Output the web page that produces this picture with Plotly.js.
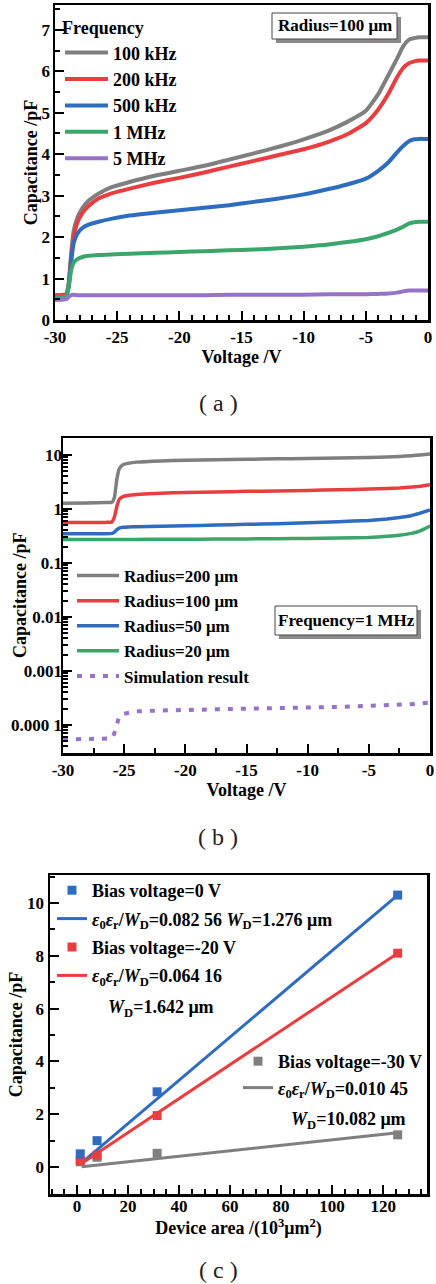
<!DOCTYPE html>
<html><head><meta charset="utf-8">
<script src="https://cdn.plot.ly/plotly-3.0.1.min.js"></script>
<style>html,body{margin:0;padding:0;background:#fff}</style>
</head><body><div id="chart" style="width:436px;height:1284px"></div>
<script>
// ---------- Panel (a): C-V at different frequencies (Radius=100 μm) ----------
const voltageA = [-30, -29.5, -29.1, -28.9, -28.7, -28.5, -28.2, -27.8, -27.3, -26.5, -25.5, -24, -22, -20, -18, -16, -14, -12, -10, -8, -6.5, -5, -4, -3.2, -2.5, -2, -1.5, -1.1, -0.7, -0.3, 0];
const freqNames = ['100 kHz', '200 kHz', '500 kHz', '1 MHz', '5 MHz'];
const cap100k = [0.6, 0.6, 0.62, 0.9, 1.6, 2.15, 2.47, 2.7, 2.88, 3.05, 3.2, 3.33, 3.48, 3.6, 3.72, 3.87, 4.02, 4.18, 4.36, 4.57, 4.78, 5.05, 5.45, 5.9, 6.3, 6.6, 6.77, 6.8, 6.82, 6.82, 6.82];
const cap200k = [0.6, 0.6, 0.62, 0.85, 1.5, 2.0, 2.35, 2.58, 2.75, 2.93, 3.05, 3.17, 3.31, 3.43, 3.56, 3.7, 3.84, 3.98, 4.12, 4.3, 4.48, 4.75, 5.08, 5.45, 5.85, 6.08, 6.2, 6.24, 6.26, 6.26, 6.26];
const cap500k = [0.55, 0.55, 0.57, 0.8, 1.4, 1.85, 2.08, 2.22, 2.3, 2.37, 2.44, 2.52, 2.59, 2.65, 2.71, 2.77, 2.85, 2.93, 3.03, 3.16, 3.27, 3.41, 3.6, 3.8, 4.04, 4.2, 4.32, 4.36, 4.37, 4.37, 4.37];
const cap1M = [0.55, 0.55, 0.57, 0.8, 1.2, 1.38, 1.47, 1.52, 1.55, 1.57, 1.58, 1.6, 1.62, 1.64, 1.66, 1.68, 1.7, 1.73, 1.77, 1.82, 1.88, 1.95, 2.02, 2.1, 2.18, 2.25, 2.33, 2.36, 2.37, 2.37, 2.37];
const cap5M = [0.48, 0.49, 0.5, 0.56, 0.6, 0.61, 0.6, 0.6, 0.6, 0.6, 0.6, 0.6, 0.6, 0.6, 0.6, 0.61, 0.61, 0.61, 0.61, 0.62, 0.62, 0.62, 0.63, 0.64, 0.66, 0.69, 0.71, 0.71, 0.71, 0.71, 0.71];
const voltTickVals = [-30, -25, -20, -15, -10, -5, 0];
const voltTickText = ['-30', '-25', '-20', '-15', '-10', '-5', '0'];

// ---------- Panel (b): C-V at 1 MHz for different radii (log scale) ----------
const voltageB = [-30, -28, -26.5, -26, -25.8, -25.6, -25.4, -25.1, -24.6, -24, -22, -20, -17.5, -15, -12.5, -10, -7.5, -5, -3.5, -2.5, -1.5, -0.8, 0];
const radiusNames = ['Radius=200 μm', 'Radius=100 μm', 'Radius=50 μm', 'Radius=20 μm', 'Simulation result'];
const capR200 = [1.27, 1.28, 1.3, 1.32, 1.6, 3.5, 5.5, 6.5, 7.0, 7.3, 7.7, 7.9, 8.1, 8.25, 8.4, 8.5, 8.7, 8.9, 9.1, 9.3, 9.6, 9.9, 10.3];
const capR100 = [0.56, 0.56, 0.56, 0.57, 0.7, 1.1, 1.5, 1.68, 1.78, 1.84, 1.94, 2.0, 2.05, 2.1, 2.14, 2.19, 2.25, 2.32, 2.38, 2.43, 2.52, 2.62, 2.78];
const capR50 = [0.345, 0.345, 0.345, 0.35, 0.37, 0.41, 0.44, 0.455, 0.46, 0.465, 0.475, 0.485, 0.5, 0.515, 0.53, 0.55, 0.575, 0.61, 0.65, 0.69, 0.75, 0.83, 0.95];
const capR20 = [0.27, 0.27, 0.27, 0.27, 0.27, 0.27, 0.27, 0.27, 0.27, 0.271, 0.272, 0.273, 0.275, 0.277, 0.279, 0.282, 0.287, 0.295, 0.31, 0.325, 0.35, 0.39, 0.48];
const capSim = [5.4e-5, 5.4e-5, 5.4e-5, 5.6e-5, 7e-5, 1.1e-4, 1.45e-4, 1.6e-4, 1.7e-4, 1.78e-4, 1.85e-4, 1.9e-4, 1.95e-4, 2.0e-4, 2.05e-4, 2.1e-4, 2.15e-4, 2.22e-4, 2.3e-4, 2.35e-4, 2.42e-4, 2.5e-4, 2.6e-4];
const logTickVals = [0.0001, 0.001, 0.01, 0.1, 1, 10];
const logTickText = ['0.000 1', '0.001', '0.01', '0.1', '1', '10'];

// ---------- Panel (c): capacitance vs device area ----------
const deviceArea = [1.26, 7.85, 31.4, 125.7];
const capBias0 = [0.5, 1.0, 2.85, 10.3];
const capBias20 = [0.24, 0.45, 1.95, 8.1];
const capBias30 = [0.2, 0.37, 0.52, 1.22];
const fitAreaX = [1.2, 125.7];
const fitBias0 = [0.11, 10.3];
const fitBias20 = [0.1, 8.1];
const fitBias30Area = [1.8, 125.7];
const fitBias30 = [0.01, 1.3];
const biasNames = ['Bias voltage=0 V', 'Bias voltage=-20 V', 'Bias voltage=-30 V'];
const fitNames = ['<i>ε</i><sub>0</sub><i>ε</i><sub>r</sub>/<i>W</i><sub>D</sub>=0.082 56 <i>W</i><sub>D</sub>=1.276 μm',
                  '<i>ε</i><sub>0</sub><i>ε</i><sub>r</sub>/<i>W</i><sub>D</sub>=0.064 16',
                  '<i>ε</i><sub>0</sub><i>ε</i><sub>r</sub>/<i>W</i><sub>D</sub>=0.010 45'];

const GRAY = '#7f7f7f', RED = '#ea3d3f', BLUE = '#2e6cc0', GREEN = '#3ba66b', PURPLE = '#9673c9';
const FONT = '"Liberation Serif", "Times New Roman", serif';
const W = 436, H = 1284;
const px = v => v / W, py = v => 1 - v / H;

const data = [];
const seriesA = [cap100k, cap200k, cap500k, cap1M, cap5M];
const colorsA = [GRAY, RED, BLUE, GREEN, PURPLE];
seriesA.forEach((ys, i) => data.push({
  x: voltageA, y: ys, type: 'scatter', mode: 'lines', name: freqNames[i],
  line: {color: colorsA[i], width: 4, shape: 'spline', smoothing: 0.5}, xaxis: 'x', yaxis: 'y', legend: 'legend'
}));
const seriesB = [capR200, capR100, capR50, capR20];
seriesB.forEach((ys, i) => data.push({
  x: voltageB, y: ys, type: 'scatter', mode: 'lines', name: radiusNames[i],
  line: {color: colorsA[i], width: 3.5, shape: 'spline', smoothing: 0.4}, xaxis: 'x2', yaxis: 'y2', legend: 'legend2'
}));
data.push({x: voltageB, y: capSim, type: 'scatter', mode: 'lines', name: radiusNames[4],
  line: {color: PURPLE, width: 4, dash: '5px,8px'}, xaxis: 'x2', yaxis: 'y2', legend: 'legend2'});

// fit lines (drawn first, below markers)
data.push({x: fitAreaX, y: fitBias0, mode: 'lines', name: fitNames[0], line: {color: BLUE, width: 3}, xaxis: 'x3', yaxis: 'y3', legend: 'legend3', legendrank: 2, legendgroup: 'g2'});
data.push({x: fitAreaX, y: fitBias20, mode: 'lines', name: fitNames[1], line: {color: RED, width: 3}, xaxis: 'x3', yaxis: 'y3', legend: 'legend3', legendrank: 4, legendgroup: 'g4'});
data.push({x: fitBias30Area, y: fitBias30, mode: 'lines', name: fitNames[2], line: {color: GRAY, width: 3}, xaxis: 'x3', yaxis: 'y3', legend: 'legend4', legendrank: 2});
data.push({x: deviceArea, y: capBias30, mode: 'markers', name: biasNames[2], marker: {symbol: 'square', size: 9, color: GRAY}, xaxis: 'x3', yaxis: 'y3', legend: 'legend4', legendrank: 1});
data.push({x: deviceArea, y: capBias20, mode: 'markers', name: biasNames[1], marker: {symbol: 'square', size: 9, color: RED}, xaxis: 'x3', yaxis: 'y3', legend: 'legend3', legendrank: 3, legendgroup: 'g3'});
data.push({x: deviceArea, y: capBias0, mode: 'markers', name: biasNames[0], marker: {symbol: 'square', size: 9, color: BLUE}, xaxis: 'x3', yaxis: 'y3', legend: 'legend3', legendrank: 1, legendgroup: 'g1'});

const tf = {family: FONT, size: 17, weight: 'bold', color: '#000'};
const titleF = {family: FONT, size: 18, weight: 'bold', color: '#000'};
function ax(o) {
  return Object.assign({
    showline: true, linecolor: '#000', linewidth: 2.5, mirror: true,
    ticks: 'inside', ticklen: 9, tickwidth: 2, tickcolor: '#000',
    showgrid: false, zeroline: false, automargin: false, fixedrange: true,
    tickfont: tf
  }, o);
}
const minor = d => ({ticks: 'inside', ticklen: 5, tickwidth: 2, tickcolor: '#000', dtick: d, showgrid: false});
const legFont = {family: FONT, size: 18, weight: 'bold', color: '#000'};
const legFontB = {family: FONT, size: 17, weight: 'bold', color: '#000'};

const layout = {
  width: W, height: H, margin: {l: 0, r: 0, t: 0, b: 0},
  paper_bgcolor: '#fff', plot_bgcolor: '#fff', showlegend: true,
  font: {family: FONT, color: '#000'},
  xaxis: ax({domain: [px(55), px(428)], anchor: 'y', range: [-30, 0], tickmode: 'array', tickvals: voltTickVals, ticktext: voltTickText,
    minor: minor(1), title: {text: 'Voltage /V', font: titleF, standoff: 2}}),
  yaxis: ax({domain: [py(320), py(5)], anchor: 'x', range: [0, 7.6], dtick: 1, tick0: 0, minor: minor(0.5),
    ticklabelstandoff: -1, title: {text: 'Capacitance /pF', font: titleF, standoff: 0}}),
  xaxis2: ax({domain: [px(63), px(430)], anchor: 'y2', range: [-30, 0], tickmode: 'array', tickvals: voltTickVals, ticktext: voltTickText,
    minor: minor(2.5), title: {text: 'Voltage /V', font: titleF, standoff: 4}}),
  yaxis2: ax({domain: [py(753), py(438)], anchor: 'x2', type: 'log', range: [-4.52, 1.31],
    tickmode: 'array', tickvals: logTickVals, ticktext: logTickText, ticklabelstandoff: -5,
    minor: {ticks: 'inside', ticklen: 5, tickwidth: 2, tickcolor: '#000', showgrid: false, dtick: 'D1'}}),
  xaxis3: ax({domain: [px(50), px(427)], anchor: 'y3', range: [-10.6, 137.2], dtick: 20, tick0: 0, minor: minor(5),
    ticklabelstandoff: -5, title: {text: 'Device area /(10<sup>3</sup>μm<sup>2</sup>)', font: titleF, standoff: 0}}),
  yaxis3: ax({domain: [py(1194), py(875)], anchor: 'x3', range: [-1.02, 11.06], dtick: 2, tick0: 0, minor: minor(1),
    title: {text: 'Capacitance /pF', font: titleF, standoff: 0}}),
  legend: {x: px(60), y: py(11), xanchor: 'left', yanchor: 'top', bgcolor: 'rgba(0,0,0,0)', borderwidth: 0,
    font: legFont, title: {text: 'Frequency', font: legFont}, itemwidth: 43, tracegroupgap: 0},
  legend2: {x: px(72), y: py(558), xanchor: 'left', yanchor: 'top', bgcolor: 'rgba(0,0,0,0)', borderwidth: 0,
    font: legFontB, itemwidth: 42},
  legend3: {x: px(52), y: py(872), xanchor: 'left', yanchor: 'top', bgcolor: 'rgba(0,0,0,0)', borderwidth: 0,
    font: legFont, tracegroupgap: 2},
  legend4: {x: px(238), y: py(1043), xanchor: 'left', yanchor: 'top', bgcolor: 'rgba(0,0,0,0)', borderwidth: 0,
    font: legFont},
  shapes: [
    {type: 'rect', xref: 'paper', yref: 'paper', x0: px(276), x1: px(401), y0: py(43), y1: py(17), fillcolor: '#8a8a8a', line: {width: 0}, layer: 'above'},
    {type: 'rect', xref: 'paper', yref: 'paper', x0: px(272), x1: px(397), y0: py(39), y1: py(13), fillcolor: '#fff', line: {color: '#444', width: 1}, layer: 'above'},
    {type: 'rect', xref: 'paper', yref: 'paper', x0: px(279), x1: px(421), y0: py(639), y1: py(610), fillcolor: '#8a8a8a', line: {width: 0}, layer: 'above'},
    {type: 'rect', xref: 'paper', yref: 'paper', x0: px(275), x1: px(417), y0: py(635), y1: py(606), fillcolor: '#fff', line: {color: '#444', width: 1}, layer: 'above'}
  ],
  annotations: [
    {text: 'Capacitance /pF', xref: 'paper', yref: 'paper', x: px(20), y: py(595), xanchor: 'center', yanchor: 'middle', textangle: -90, showarrow: false, font: titleF},
    {text: 'Radius=100 μm', xref: 'paper', yref: 'paper', x: px(334.5), y: py(26), xanchor: 'center', yanchor: 'middle', showarrow: false, font: {family: FONT, size: 17, weight: 'bold', color: '#000'}},
    {text: 'Frequency=1 MHz', xref: 'paper', yref: 'paper', x: px(346), y: py(620.5), xanchor: 'center', yanchor: 'middle', showarrow: false, font: {family: FONT, size: 17, weight: 'bold', color: '#000'}},
    {text: '<i>W</i><sub>D</sub>=1.642 μm', xref: 'paper', yref: 'paper', x: px(106), y: py(1008), xanchor: 'left', yanchor: 'middle', showarrow: false, font: legFont},
    {text: '<i>W</i><sub>D</sub>=10.082 μm', xref: 'paper', yref: 'paper', x: px(289), y: py(1120), xanchor: 'left', yanchor: 'middle', showarrow: false, font: legFont},
    {text: '( a )', xref: 'paper', yref: 'paper', x: px(218), y: py(403), xanchor: 'center', yanchor: 'middle', showarrow: false, font: {family: FONT, size: 24, color: '#222'}},
    {text: '( b )', xref: 'paper', yref: 'paper', x: px(218), y: py(837), xanchor: 'center', yanchor: 'middle', showarrow: false, font: {family: FONT, size: 24, color: '#222'}},
    {text: '( c )', xref: 'paper', yref: 'paper', x: px(218), y: py(1270), xanchor: 'center', yanchor: 'middle', showarrow: false, font: {family: FONT, size: 24, color: '#222'}}
  ]
};

Plotly.newPlot('chart', data, layout, {displayModeBar: false, staticPlot: true});
</script>
</body></html>
